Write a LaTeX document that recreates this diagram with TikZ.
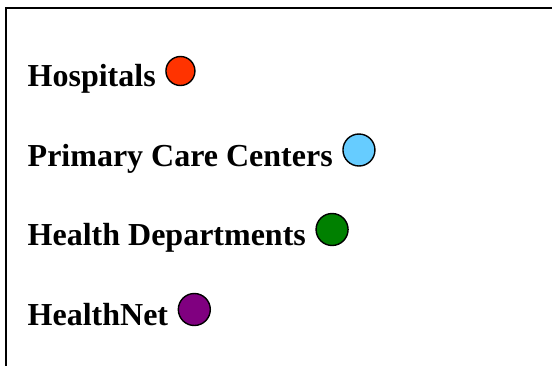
\documentclass[tikz,border=0pt]{standalone}
\usepackage{fontspec}
\setmainfont{Liberation Serif}
\usetikzlibrary{calc}
\definecolor{hospred}{HTML}{FF3300}
\definecolor{pcblue}{HTML}{66CCFF}
\definecolor{hdgreen}{HTML}{008000}
\definecolor{hnpurple}{HTML}{800080}
\begin{document}
\begin{tikzpicture}[x=1pt,y=-1pt,
  lbl/.style={anchor=base west, inner sep=0pt, font=\fontsize{32}{38}\selectfont\bfseries},
  dot/.style={circle, draw=black, line width=1.4pt, minimum size=32pt, inner sep=0pt},
  frame/.style={line width=2pt, draw=black}]
\useasboundingbox (0,0) rectangle (552,365);
\draw[frame] (6,380) -- (6,8) -- (570,8);
\node[lbl] (h) at (27.5,86.5) {Hospitals};
\node[dot, fill=hospred, minimum size=29pt] (hc) at ($(h.base east)+(24.5,-15.5)$) {};
\node[lbl] (p) at (27.5,166) {Primary Care Centers};
\node[dot, fill=pcblue] (pc) at ($(p.base east)+(26,-16)$) {};
\node[lbl] (d) at (27.5,245.5) {Health Departments};
\node[dot, fill=hdgreen] (dc) at ($(d.base east)+(26,-16)$) {};
\node[lbl] (n) at (27.5,325) {HealthNet};
\node[dot, fill=hnpurple] (nc) at ($(n.base east)+(26,-15.5)$) {};
\end{tikzpicture}
\end{document}
